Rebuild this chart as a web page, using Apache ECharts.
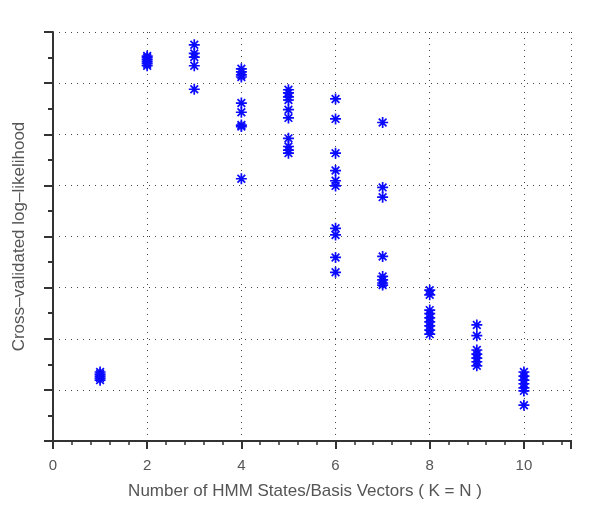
<!DOCTYPE html>
<html>
<head>
<meta charset="utf-8">
<script src="https://cdn.jsdelivr.net/npm/echarts@6/dist/echarts.min.js"></script>
<style>html,body{margin:0;padding:0;background:#fff}#c{width:600px;height:509px}</style>
</head>
<body>
<div id="c"></div>
<script>
// Number of states K for each column of runs
const kValues = [1, 2, 3, 4, 5, 6, 7, 8, 9, 10];
// Cross-validated log-likelihood of each run (arbitrary units)
const ll_k1 = [1.35, 1.31, 1.27, 1.23, 1.19];
const ll_k2 = [7.53, 7.50, 7.46, 7.42, 7.38, 7.34];
const ll_k3 = [7.75, 7.58, 7.51, 7.34, 6.88];
const ll_k4 = [7.28, 7.22, 7.16, 7.12, 6.61, 6.43, 6.18, 6.15, 5.13];
const ll_k5 = [6.87, 6.81, 6.73, 6.67, 6.48, 6.32, 5.92, 5.76, 5.69, 5.63];
const ll_k6 = [6.69, 6.30, 5.63, 5.29, 5.09, 4.99, 4.16, 4.03, 3.59, 3.30];
const ll_k7 = [6.23, 4.96, 4.77, 3.61, 3.22, 3.15, 3.09, 3.05];
const ll_k8 = [2.95, 2.86, 2.56, 2.49, 2.41, 2.33, 2.25, 2.17, 2.09];
const ll_k9 = [2.27, 2.06, 1.78, 1.70, 1.62, 1.55, 1.47];
const ll_k10 = [1.35, 1.27, 1.19, 1.12, 1.04, 0.98, 0.70];
const xTickLabels = ['0', '2', '4', '6', '8', '10'];
const xLabel = 'Number of HMM States/Basis Vectors ( K = N )';
const yLabel = 'Cross\u2013validated log\u2013likelihood';

const columns = [ll_k1, ll_k2, ll_k3, ll_k4, ll_k5, ll_k6, ll_k7, ll_k8, ll_k9, ll_k10];
const points = [];
columns.forEach((col, i) => col.forEach(v => points.push([kValues[i], v])));

const asterisk = 'path://M0,-10L0,10M-10,0L10,0M-7,-7L7,7M-7,7L7,-7';
const axisColor = '#333';
const textColor = '#555';
const font = 'Liberation Sans, Arial, sans-serif';

const chart = echarts.init(document.getElementById('c'));
chart.setOption({
  animation: false,
  backgroundColor: '#fff',
  grid: { left: 53, right: 29, top: 32, bottom: 68 },
  xAxis: {
    type: 'value', min: 0, max: 11, interval: 2,
    name: xLabel, nameLocation: 'middle', nameGap: 42,
    nameTextStyle: { fontSize: 17, color: textColor, fontFamily: font, padding: [0, 14, 0, 0] },
    axisLine: { show: true, onZero: false, lineStyle: { color: axisColor, width: 2 } },
    axisTick: { show: true, inside: false, length: 8, lineStyle: { color: axisColor, width: 2 } },
    minorTick: { show: true, splitNumber: 5, length: 4, lineStyle: { color: axisColor, width: 1.5 } },
    axisLabel: { color: textColor, fontSize: 15, fontFamily: font, margin: 17,
      formatter: v => xTickLabels.includes(String(v)) ? String(v) : '' },
    splitLine: { show: true, lineStyle: { color: '#444', type: [1, 5], width: 1 } }
  },
  yAxis: {
    type: 'value', min: 0, max: 8, interval: 1,
    name: yLabel, nameLocation: 'middle', nameGap: 25, nameRotate: 90,
    nameTextStyle: { fontSize: 17, color: textColor, fontFamily: font },
    axisLine: { show: true, onZero: false, lineStyle: { color: axisColor, width: 2 } },
    axisTick: { show: true, inside: false, length: 9, lineStyle: { color: axisColor, width: 2 } },
    minorTick: { show: true, splitNumber: 2, length: 5, lineStyle: { color: axisColor, width: 2 } },
    axisLabel: { show: false },
    splitLine: { show: true, lineStyle: { color: '#444', type: [1, 5], width: 1 } }
  },
  series: [{
    type: 'scatter',
    data: points,
    symbol: asterisk,
    symbolSize: 11,
    itemStyle: { color: 'none', borderColor: '#0a0aff', borderWidth: 1.7, opacity: 1 }
  }]
});
</script>
</body>
</html>
